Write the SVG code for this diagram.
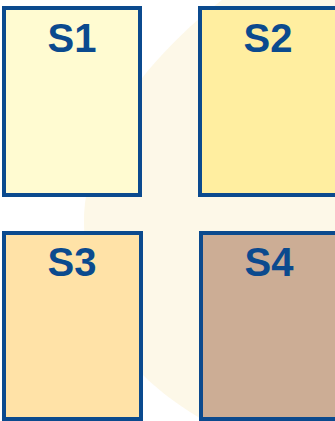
<svg xmlns="http://www.w3.org/2000/svg" width="335" height="421" viewBox="0 0 335 421">
<style>
.box{stroke:#0b4a8e;stroke-width:4}
.lbl{font-family:"Liberation Sans",Arial,sans-serif;font-weight:bold;font-size:40px;fill:#0b4a8e;text-anchor:middle}
</style>
<rect width="335" height="421" fill="#ffffff"/>
<path id="backdrop" d="M 222,0 C 195,20 160,55 143,77 C 105,125 84,175 84,222 C 84,280 105,335 143,375 C 160,392 185,410 205,421 L 335,421 L 335,0 Z" fill="#fdf8e8"/>
<g id="connectors"></g>
<g id="S1"><rect class="box" x="4" y="8" width="136" height="187" fill="#fffbd1"/><text class="lbl" x="72" y="52">S1</text></g>
<g id="S2"><rect class="box" x="200" y="8" width="137" height="187" fill="#ffeea0"/><text class="lbl" x="268" y="52">S2</text></g>
<g id="S3"><rect class="box" x="4" y="233" width="137" height="186" fill="#ffe2a7"/><text class="lbl" x="72" y="276">S3</text></g>
<g id="S4"><rect class="box" x="201" y="233" width="136" height="186" fill="#ccad95"/><text class="lbl" x="269" y="276">S4</text></g>
</svg>
